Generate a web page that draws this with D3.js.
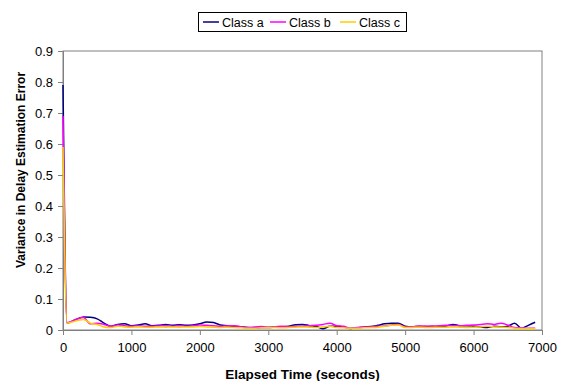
<!DOCTYPE html>
<html><head><meta charset="utf-8">
<script src="https://cdn.jsdelivr.net/npm/d3@7"></script>
<style>body{margin:0;background:#fff}svg{display:block}text{font-family:"Liberation Sans",Arial,sans-serif}</style>
</head><body><svg id="c" width="568" height="381"></svg>
<script>
const times = [0, 60].concat(d3.range(100, 7000, 100));
const classA = [0.79, 0.022, 0.025, 0.035, 0.042, 0.041, 0.036, 0.022, 0.012, 0.018, 0.02, 0.014, 0.016, 0.02, 0.014, 0.015, 0.018, 0.015, 0.017, 0.015, 0.016, 0.02, 0.026, 0.024, 0.016, 0.014, 0.012, 0.01, 0.008, 0.007, 0.008, 0.008, 0.009, 0.01, 0.012, 0.017, 0.018, 0.014, 0.012, 0.004, 0.012, 0.012, 0.01, 0.005, 0.007, 0.01, 0.011, 0.015, 0.02, 0.022, 0.022, 0.012, 0.01, 0.012, 0.01, 0.012, 0.011, 0.013, 0.018, 0.014, 0.014, 0.012, 0.01, 0.008, 0.012, 0.01, 0.012, 0.022, 0.006, 0.015, 0.025];
const classB = [0.69, 0.024, 0.026, 0.035, 0.04, 0.02, 0.022, 0.018, 0.012, 0.016, 0.014, 0.012, 0.014, 0.012, 0.012, 0.013, 0.014, 0.012, 0.014, 0.012, 0.014, 0.016, 0.015, 0.014, 0.012, 0.013, 0.014, 0.01, 0.008, 0.01, 0.011, 0.009, 0.01, 0.012, 0.01, 0.012, 0.012, 0.014, 0.015, 0.018, 0.022, 0.014, 0.012, 0.006, 0.008, 0.01, 0.01, 0.012, 0.013, 0.016, 0.018, 0.01, 0.01, 0.012, 0.013, 0.012, 0.014, 0.015, 0.014, 0.014, 0.015, 0.016, 0.018, 0.02, 0.018, 0.022, 0.016, 0.008, 0.007, 0.006, 0.006];
const classC = [0.59, 0.022, 0.024, 0.03, 0.034, 0.022, 0.018, 0.01, 0.008, 0.012, 0.01, 0.009, 0.01, 0.009, 0.009, 0.01, 0.009, 0.01, 0.009, 0.01, 0.01, 0.011, 0.01, 0.009, 0.008, 0.009, 0.008, 0.007, 0.006, 0.006, 0.007, 0.007, 0.008, 0.007, 0.008, 0.009, 0.01, 0.009, 0.008, 0.01, 0.012, 0.008, 0.007, 0.006, 0.006, 0.007, 0.008, 0.009, 0.012, 0.015, 0.016, 0.008, 0.008, 0.009, 0.008, 0.008, 0.009, 0.009, 0.01, 0.009, 0.008, 0.009, 0.01, 0.012, 0.01, 0.009, 0.008, 0.006, 0.005, 0.005, 0.004];
const seriesNames = ["Class a", "Class b", "Class c"];
const seriesColors = ["#000080", "#FF00FF", "#FFCC00"];
const xTicks = [0, 1000, 2000, 3000, 4000, 5000, 6000, 7000];
const yTicks = [0, 0.1, 0.2, 0.3, 0.4, 0.5, 0.6, 0.7, 0.8, 0.9];

const svg = d3.select("#c");
const L = 63, R = 542, T = 51, B = 330;
const x = d3.scaleLinear().domain([0, 7000]).range([L, R]);
const y = d3.scaleLinear().domain([0, 0.9]).range([B, T]);

// plot frame
svg.append("rect").attr("x", L).attr("y", T).attr("width", R - L).attr("height", B - T)
  .attr("fill", "none").attr("stroke", "#808080").attr("stroke-width", 1);

const yAx = svg.append("g").attr("transform", `translate(${L},0)`)
  .call(d3.axisLeft(y).tickValues(yTicks).tickSize(5).tickPadding(5).tickFormat(d => d === 0 ? "0" : d3.format(".1f")(d)));
const xAx = svg.append("g").attr("transform", `translate(0,${B})`)
  .call(d3.axisBottom(x).tickValues(xTicks).tickSize(5).tickPadding(8).tickFormat(d3.format("d")));
[yAx, xAx].forEach(g => {
  g.select(".domain").attr("stroke", "#808080");
  g.selectAll(".tick line").attr("stroke", "#808080");
  g.selectAll("text").attr("font-size", 13).attr("fill", "#000");
});

const line = d3.line().x((d, i) => x(times[i])).y(d => y(d)).curve(d3.curveMonotoneX);
[classA, classB, classC].forEach((s, k) => {
  svg.append("path").datum(s).attr("d", line).attr("fill", "none")
    .attr("stroke", seriesColors[k]).attr("stroke-width", 1.5);
});

// axis titles
svg.append("text").attr("x", (L + R) / 2).attr("y", 379).attr("text-anchor", "middle")
  .attr("font-size", 13.5).attr("font-weight", "bold").text("Elapsed Time (seconds)");
svg.append("clipPath").attr("id", "yclip").append("rect").attr("x", 0).attr("y", 61).attr("width", 40).attr("height", 300);
svg.append("g").attr("clip-path", "url(#yclip)").append("text")
  .attr("transform", "translate(25,268) rotate(-90)").attr("text-anchor", "start")
  .attr("font-size", 12).attr("font-weight", "bold").text("Variance in Delay Estimation Error");

// legend
const lg = svg.append("g");
lg.append("rect").attr("x", 198.5).attr("y", 12.5).attr("width", 208).attr("height", 19)
  .attr("fill", "#fff").attr("stroke", "#000").attr("stroke-width", 1);
const lx = [203, 270, 340];
seriesNames.forEach((n, k) => {
  lg.append("line").attr("x1", lx[k]).attr("x2", lx[k] + 16).attr("y1", 22).attr("y2", 22)
    .attr("stroke", seriesColors[k]).attr("stroke-width", 1.5);
  lg.append("text").attr("x", lx[k] + 19).attr("y", 26.5).attr("font-size", 12.5).text(n);
});
</script></body></html>
